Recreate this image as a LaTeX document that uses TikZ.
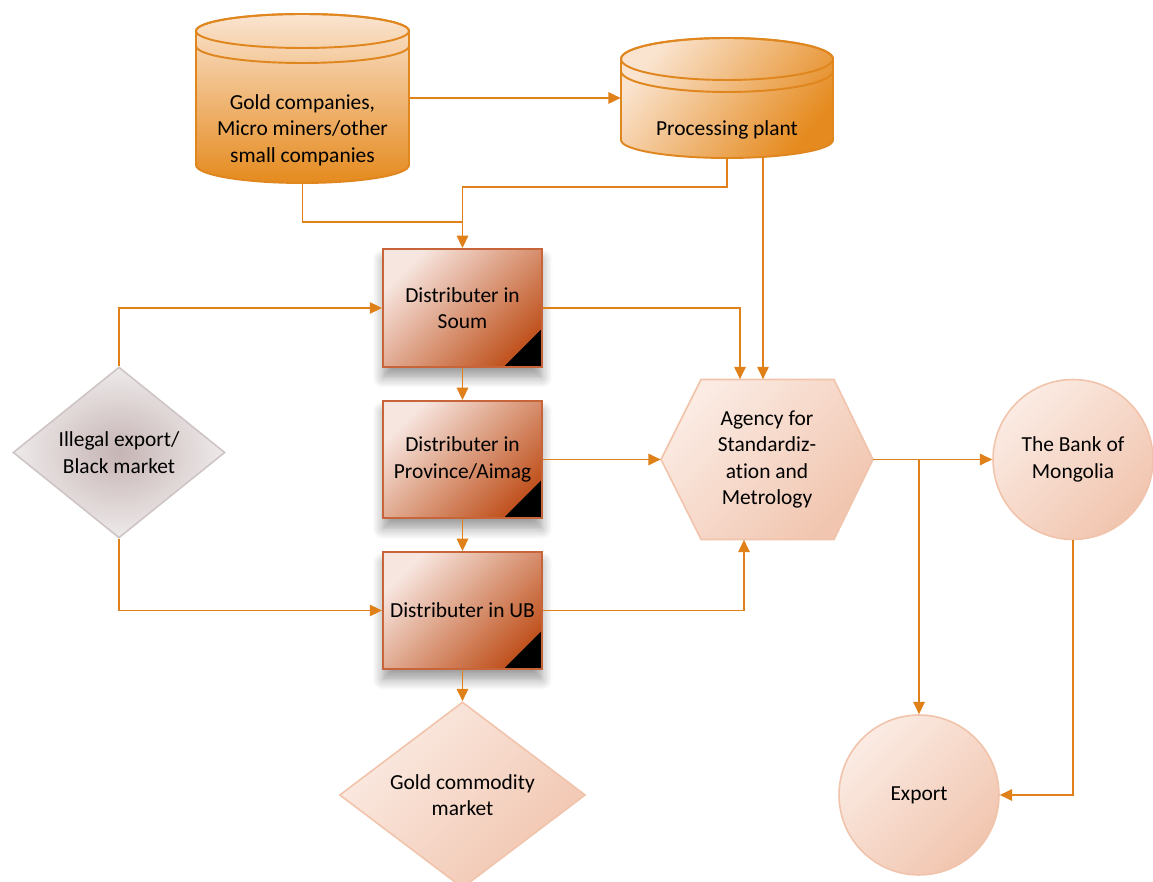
\documentclass[tikz,border=0pt]{standalone}
\usepackage{fontspec}
\setmainfont{Carlito}[Ligatures={NoCommon}]
\usetikzlibrary{shapes.geometric,arrows.meta,shadows.blur}
\definecolor{conn}{HTML}{E08018}
\definecolor{cylA}{HTML}{FAE4D0}
\definecolor{cylB}{HTML}{E58A1E}
\definecolor{cylL}{HTML}{E0861E}
\definecolor{boxA}{HTML}{F7E6E0}
\definecolor{boxB}{HTML}{C0531F}
\definecolor{boxL}{HTML}{C8643A}
\definecolor{peachA}{HTML}{FBEBE3}
\definecolor{peachB}{HTML}{F1C5AF}
\definecolor{peachL}{HTML}{F1C3AB}
\definecolor{grayIn}{HTML}{C6B4B4}
\definecolor{grayOut}{HTML}{EEEAEA}
\definecolor{grayL}{HTML}{CEC4C4}
\begin{document}
\begin{tikzpicture}[x=0.02cm,y=0.02cm,
  every node/.style={font=\fontsize{12.2pt}{15pt}\selectfont, align=center, inner sep=0pt},
  ghost/.style={rectangle, draw=none},
  cylbody/.style={draw=cylL, line width=1.1pt},
  distbox/.style={rectangle, draw=boxL, line width=1.1pt, minimum width=3.18cm,
    top color=boxA, bottom color=boxB, shading angle=45,
    blur shadow={shadow xshift=0pt, shadow yshift=-6pt, shadow opacity=40, shadow blur steps=8, shadow blur radius=6pt}},
  peachshape/.style={draw=peachL, line width=0.9pt, top color=peachA, bottom color=peachB, shading angle=45},
  line/.style={draw=conn, line width=0.9pt},
  arr/.style={line, -{Triangle[length=7pt,width=6.5pt]}}
]
\useasboundingbox (0,0) rectangle (1153,882);

% ---- Gold companies cylinder
\path[cylbody, top color=cylA, bottom color=cylB]
  (196,851) -- (196,717) arc[start angle=180,end angle=360,x radius=106.5,y radius=18]
  -- (409,851) arc[start angle=0,end angle=180,x radius=106.5,y radius=17] -- cycle;
\draw[cylbody] (302.5,851) ellipse[x radius=106.5,y radius=17];
\draw[cylbody] (196,836) arc[start angle=180,end angle=360,x radius=106.5,y radius=17];
\node[ghost, minimum width=4.26cm, minimum height=3.4cm] (gold) at (302.5,784) {};
\node (goldtxt) at (302.5,752) {Gold companies,\\Micro miners/other\\small companies};

% ---- Processing plant cylinder
\path[cylbody, top color=cylA, bottom color=cylB, shading angle=50]
  (621,823) -- (621,742) arc[start angle=180,end angle=360,x radius=106,y radius=18]
  -- (833,823) arc[start angle=0,end angle=180,x radius=106,y radius=21] -- cycle;
\draw[cylbody] (727,823) ellipse[x radius=106,y radius=21];
\draw[cylbody] (621,811) arc[start angle=180,end angle=360,x radius=106,y radius=21];
\node[ghost, minimum width=4.24cm, minimum height=2.4cm] (plant) at (727,784) {};
\node (planttxt) at (727,752) {Processing plant};

% ---- Distributer boxes
\node[distbox, minimum height=2.36cm] (soum) at (462.5,574) {Distributer in\\Soum};
\node[distbox, minimum height=2.34cm] (prov) at (462.5,422.5) {Distributer in\\Province/Aimag};
\node[distbox, minimum height=2.34cm] (ub) at (462.5,271.5) {Distributer in UB};
\foreach \b in {soum,prov,ub}{
  \fill[black] ([shift={(-1.2pt,1.2pt)}]\b.south east) -- ++(-36,0) -- ++(36,36) -- cycle;
}

% ---- Illegal export diamond
\node[diamond, draw=grayL, line width=0.9pt, inner color=grayIn, outer color=grayOut,
  minimum width=4.24cm, minimum height=3.42cm] (ill) at (119,429.5) {Illegal export/\\Black market};

% ---- Agency hexagon
\path[peachshape] (661,422.5) -- (701,502.5) -- (834,502.5) -- (873,422.5) -- (834,342.5) -- (701,342.5) -- cycle;
\node[ghost, minimum width=4.24cm, minimum height=3.2cm] (agency) at (767,422.5) {};
\node (agencytxt) at (767,422.5) {Agency for\\Standardiz-\\ation and\\Metrology};

% ---- Circles
\node[circle, peachshape, minimum size=3.2cm] (bank) at (1073,422.5) {The Bank of\\Mongolia};
\node[circle, peachshape, minimum size=3.2cm] (export) at (919,87) {Export};

% ---- Gold commodity market diamond
\node[diamond, peachshape, minimum width=4.92cm, minimum height=3.68cm] (market) at (462.5,87) {Gold commodity\\market};

% ---- Connectors
\coordinate (j1) at (462.5,695);
\coordinate (j2) at (462.5,660);
\draw[arr] (gold.east) -- (plant.west);
\draw[line] (gold.south) |- (j2);
\draw[arr] (plant.south) |- (j1) -- (soum.north);
\draw[arr] ([xshift=0.72cm]plant.south) coordinate (p2) -- (p2 |- agency.north);
\draw[arr] (soum.east) -| ([xshift=-0.54cm]agency.north);
\draw[arr] (soum.south) -- (prov.north);
\draw[arr] (prov.south) -- (ub.north);
\draw[arr] (ub.south) -- (market.north);
\draw[arr] (prov.east) -- (agency.west);
\draw[arr] (ub.east) -| ([xshift=-0.46cm]agency.south);
\draw[arr] (ill.north) |- (soum.west);
\draw[arr] (ill.south) |- (ub.west);
\draw[arr] (agency.east) -- (bank.west);
\draw[arr] (agency.east -| export.north) -- (export.north);
\draw[arr] (bank.south) |- (export.east);
\end{tikzpicture}
\end{document}
